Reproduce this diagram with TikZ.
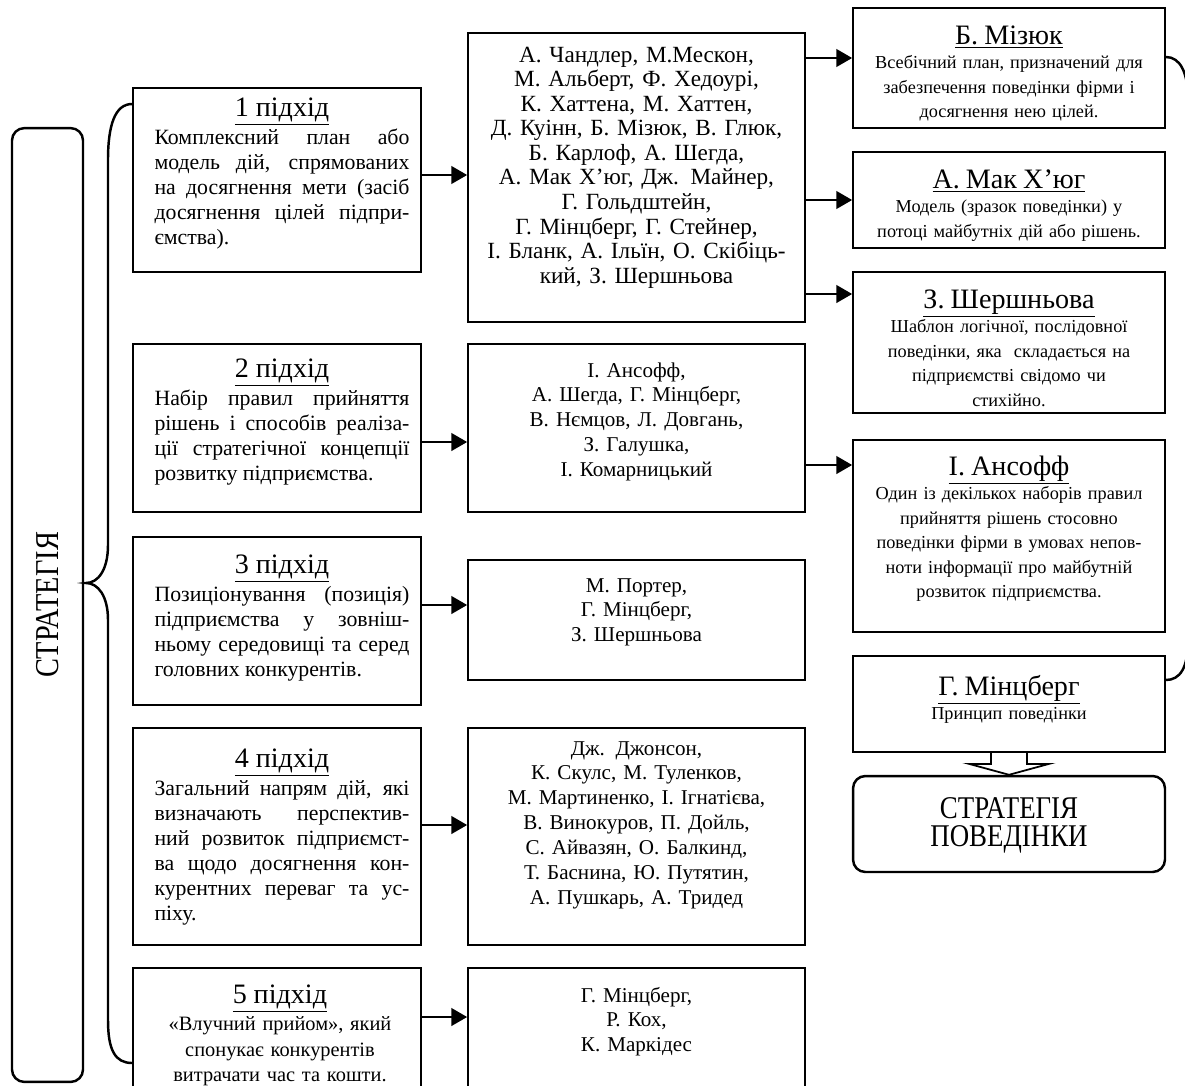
\documentclass[tikz,border=0pt]{standalone}
\usepackage{fontspec}
\setmainfont{Liberation Serif}
\newfontfamily\narrowfont[FakeStretch=0.85]{Liberation Serif}
\usetikzlibrary{arrows.meta,calc}

\newcommand\headline[2][0pt]{{\centering\fontsize{16}{14}\selectfont\underline{#2}\par\vspace{#1}}}
\newcommand\bodysize{\fontsize{12.4}{14.2}\selectfont}
\newcommand\namesize{\fontsize{12}{14.2}\selectfont}
\newcommand\notesize{\fontsize{10.4}{14}\selectfont}

\tikzset{
  box/.style={draw, line width=1pt, inner sep=0pt},
  roundbox/.style={draw, line width=1.4pt, inner sep=0pt, rounded corners=7pt},
  txt/.style={anchor=base, inner sep=0pt, font=\namesize},
  lefttxt/.style={txt, text width=5.1cm, align=justify, font=\bodysize,
    execute at begin node={\tolerance=9999}},
  midtxt/.style={txt, text width=6.5cm, align=center},
  righttxt/.style={txt, text width=6cm, align=center, font=\notesize},
  arr/.style={-{Triangle[length=9pt,width=10pt]}, line width=1.4pt},
  brace/.style={line width=1.4pt},
}

\begin{document}
\begin{tikzpicture}[x=0.02cm,y=-0.02cm]
\clip (0,0) rectangle (1185,1085);

% strategy
\node[roundbox, rotate=90, minimum width=19.08cm, minimum height=1.42cm,
  font=\narrowfont\fontsize{19}{20}\selectfont] (strat) at (47.5,605) {СТРАТЕГІЯ};

% approaches
\node[box, minimum width=5.76cm, minimum height=3.68cm] (b1) at (277,180) {};
\node[lefttxt] at (282,116) {\headline[2pt]{1 підхід}Комплексний план або\linebreak
  модель дій, спрямованих\linebreak на досягнення мети (засіб\linebreak
  досягнення цілей підпри-\linebreak ємства).};

\node[box, minimum width=5.76cm, minimum height=3.36cm] (b2) at (277,428) {};
\node[lefttxt] at (282,377) {\headline[2pt]{2 підхід}Набір правил прийняття\linebreak
  рішень і способів реаліза-\linebreak ції стратегічної концепції\linebreak
  розвитку підприємства.};

\node[box, minimum width=5.76cm, minimum height=3.36cm] (b3) at (277,621) {};
\node[lefttxt] at (282,573) {\headline[2pt]{3 підхід}Позиціонування (позиція)\linebreak
  підприємства у зовніш-\linebreak ньому середовищі та серед\linebreak
  головних конкурентів.};

\node[box, minimum width=5.76cm, minimum height=4.34cm] (b4) at (277,836.5) {};
\node[lefttxt] at (282,767) {\headline[2pt]{4 підхід}Загальний напрям дій, які\linebreak
  визначають перспектив-\linebreak ний розвиток підприємст-\linebreak
  ва щодо досягнення кон-\linebreak курентних переваг та ус-\linebreak піху.};

\node[box, minimum width=5.76cm, minimum height=2.64cm] (b5) at (277,1034) {};
\node[txt, text width=5.1cm, align=center, font=\fontsize{11.6}{14.6}\selectfont] at (280,1003)
  {\headline[1pt]{5 підхід}«Влучний прийом», який\\ спонукає конкурентів\\ витрачати час та кошти.};

% the big brace
\draw[brace] (b1.west |- 0,104) .. controls (115,104) and (108,125) .. (108,160)
  -- (108,545) .. controls (108,570) and (98,583) .. (86,583)
  .. controls (98,583) and (108,596) .. (108,620)
  -- (108,1020) .. controls (108,1050) and (115,1063) .. (b5.west |- 0,1063);

% authors
\node[box, minimum width=6.74cm, minimum height=5.78cm] (a1) at (636.5,177.5) {};
\node[midtxt, font=\fontsize{13.2}{14}\selectfont] at (636.5,62) {А. Чандлер, М.Мескон,\\
  М. Альберт, Ф. Хедоурі,\\ К. Хаттена, М. Хаттен,\\ Д. Куінн, Б. Мізюк, В. Глюк,\\
  Б. Карлоф, А. Шегда,\\ А. Мак Х’юг, Дж. Майнер,\\ Г. Гольдштейн,\\
  Г. Мінцберг, Г. Стейнер,\\ І. Бланк, А. Ільїн, О. Скібіць-\\ кий, З. Шершньова};

\node[box, minimum width=6.74cm, minimum height=3.36cm] (a2) at (636.5,428) {};
\node[midtxt] at (636.5,377) {І. Ансофф,\\ А. Шегда, Г. Мінцберг,\\
  В. Нємцов, Л. Довгань,\\ З. Галушка,\\ І. Комарницький};

\node[box, minimum width=6.74cm, minimum height=2.4cm] (a3) at (636.5,620) {};
\node[midtxt] at (636.5,592) {М. Портер,\\ Г. Мінцберг,\\ З. Шершньова};

\node[box, minimum width=6.74cm, minimum height=4.34cm] (a4) at (636.5,836.5) {};
\node[midtxt] at (636.5,755) {Дж. Джонсон,\\ К. Скулс, М. Туленков,\\
  М. Мартиненко, І. Ігнатієва,\\ В. Винокуров, П. Дойль,\\ С. Айвазян, О. Балкинд,\\
  Т. Баснина, Ю. Путятин,\\ А. Пушкарь, А. Тридед};

\node[box, minimum width=6.74cm, minimum height=2.64cm] (a5) at (636.5,1034) {};
\node[midtxt] at (636.5,1002) {Г. Мінцберг,\\ Р. Кох,\\ К. Маркідес};

% definitions
\node[box, minimum width=6.24cm, minimum height=2.4cm] (r1) at (1009,68) {};
\node[righttxt] at (1009,44) {\headline{Б. Мізюк}Всебічний план, призначений для\\
  забезпечення поведінки фірми і\\ досягнення нею цілей.};

\node[box, minimum width=6.24cm, minimum height=1.92cm] (r2) at (1009,200) {};
\node[righttxt] at (1009,188) {\headline{А. Мак Х’юг}Модель (зразок поведінки) у\\
  потоці майбутніх дій або рішень.};

\node[box, minimum width=6.24cm, minimum height=2.82cm] (r3) at (1009,342.5) {};
\node[righttxt] at (1009,308) {\headline{З. Шершньова}Шаблон логічної, послідовної\\
  поведінки, яка~ складається на\\ підприємстві свідомо чи\\ стихійно.};

\node[box, minimum width=6.24cm, minimum height=3.84cm] (r4) at (1009,536) {};
\node[righttxt] at (1009,475) {\headline{І. Ансофф}Один із декількох наборів правил\\
  прийняття рішень стосовно\\ поведінки фірми в умовах непов-\\
  ноти інформації про майбутній\\ розвиток підприємства.};

\node[box, minimum width=6.24cm, minimum height=1.92cm] (r5) at (1009,704) {};
\node[righttxt] at (1009,695) {\headline{Г. Мінцберг}Принцип поведінки};

\node[roundbox, minimum width=6.24cm, minimum height=1.92cm] (beh) at (1009,824) {};
\node[txt, text width=6cm, align=center,
  font=\narrowfont\fontsize{18}{16}\selectfont] at (1009,818) {СТРАТЕГІЯ\\ ПОВЕДІНКИ};

% connectors
\draw[arr] (b1.east |- 0,175) -- (a1.west |- 0,175);
\draw[arr] (b2.east |- 0,442) -- (a2.west |- 0,442);
\draw[arr] (b3.east |- 0,605) -- (a3.west |- 0,605);
\draw[arr] (b4.east |- 0,825) -- (a4.west |- 0,825);
\draw[arr] (b5.east |- 0,1017) -- (a5.west |- 0,1017);
\draw[arr] (a1.east |- 0,58) -- (r1.west |- 0,58);
\draw[arr] (a1.east |- 0,200) -- (r2.west |- 0,200);
\draw[arr] (a1.east |- 0,294) -- (r3.west |- 0,294);
\draw[arr] (a2.east |- 0,465) -- (r4.west |- 0,465);

% hollow arrow and the right brace
\draw[line width=1pt] ($(r5.south)+(-18,0)$) -- ++(0,11) -- ++(-22,0) -- (beh.north)
  -- ($(r5.south)+(40,11)$) -- ++(-22,0) -- ++(0,-11);
\draw[brace] (r1.east |- 0,57) .. controls (1180,57) and (1188,72) .. (1188,100)
  -- (1188,330) .. controls (1188,355) and (1196,368) .. (1212,368)
  .. controls (1196,368) and (1188,381) .. (1188,406)
  -- (1188,640) .. controls (1188,668) and (1180,680) .. (r5.east |- 0,680);
\end{tikzpicture}
\end{document}
